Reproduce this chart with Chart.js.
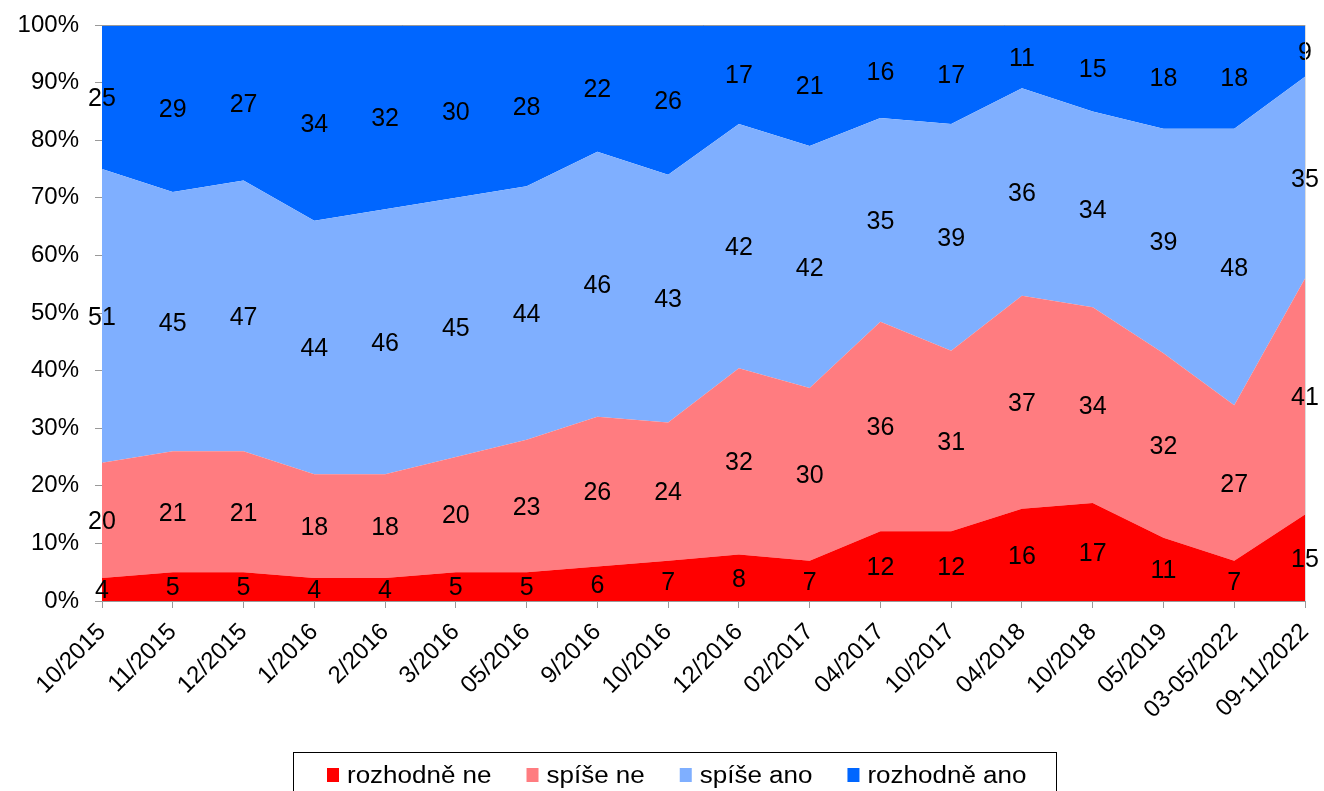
<!DOCTYPE html>
<html>
<head>
<meta charset="utf-8">
<script src="https://cdn.jsdelivr.net/npm/chart.js@4/dist/chart.umd.min.js"></script>
<style>
  html,body{margin:0;padding:0;background:#fff;}
  #wrap{width:1324px;height:791px;}
</style>
</head>
<body>
<div id="wrap"><canvas id="c" width="1324" height="791"></canvas></div>
<script>
// -- dati --
let labels = ["10/2015","11/2015","12/2015","1/2016","2/2016","3/2016","05/2016","9/2016","10/2016","12/2016","02/2017","04/2017","10/2017","04/2018","10/2018","05/2019","03-05/2022","09-11/2022"];
let rozhodneNe  = [4,5,5,4,4,5,5,6,7,8,7,12,12,16,17,11,7,15];
let spiseNe     = [20,21,21,18,18,20,23,26,24,32,30,36,31,37,34,32,27,41];
let spiseAno    = [51,45,47,44,46,45,44,46,43,42,42,35,39,36,34,39,48,35];
let rozhodneAno = [25,29,27,34,32,30,28,22,26,17,21,16,17,11,15,18,18,9];
let seriesNames = ["rozhodně ne","spíše ne","spíše ano","rozhodně ano"];
let colors = ["#FF0000","#FF7C80","#7FAFFF","#0066FF"];
let yTicks = [0,10,20,30,40,50,60,70,80,90,100];

const FONT = "'Liberation Sans', Arial, sans-serif";
let raw = [rozhodneNe, spiseNe, spiseAno, rozhodneAno];
// 100% stacked: normalizza ogni colonna
let totals = labels.map((_,j)=>raw.reduce((s,a)=>s+a[j],0));
let norm = raw.map(a=>a.map((v,j)=>v/totals[j]*100));

// -- etichette dentro le aree --
const valueLabels = {
  id:'valueLabels',
  afterDatasetsDraw(chart){
    let ctx=chart.ctx, x=chart.scales.x, y=chart.scales.y;
    ctx.save();
    ctx.font="25px "+FONT; ctx.fillStyle="#000"; ctx.textAlign="center"; ctx.textBaseline="middle";
    labels.forEach((_,j)=>{
      let base=0;
      raw.forEach((arr,i)=>{
        let mid=base+norm[i][j]/2; base+=norm[i][j];
        ctx.fillText(String(arr[j]), x.getPixelForValue(j), y.getPixelForValue(mid)+2);
      });
    });
    ctx.restore();
  }
};

// -- bordo superiore + legenda in riquadro --
const frameLegend = {
  id:'frameLegend',
  afterDraw(chart){
    let ctx=chart.ctx, a=chart.chartArea;
    ctx.save();
    ctx.strokeStyle="#999"; ctx.lineWidth=1;
    ctx.beginPath(); ctx.moveTo(a.left,a.top+0.5); ctx.lineTo(a.right,a.top+0.5); ctx.stroke();
    ctx.strokeStyle="#ddd";
    ctx.beginPath(); ctx.moveTo(a.right+0.5,a.top); ctx.lineTo(a.right+0.5,a.bottom); ctx.stroke();
    // legenda (testo un po' largo come nell'originale)
    ctx.strokeStyle="#000";
    ctx.strokeRect(293.5,752.5,763,60);
    ctx.font="23px "+FONT; ctx.textBaseline="alphabetic"; ctx.textAlign="left";
    let sx=1.13, mw=12, mg=8, gap=35;
    let xx=327, base=783;
    seriesNames.forEach((n,i)=>{
      ctx.fillStyle=colors[i]; ctx.fillRect(xx,768,mw,14);
      ctx.fillStyle="#000";
      ctx.save(); ctx.translate(xx+mw+mg,base); ctx.scale(sx,1); ctx.fillText(n,0,0); ctx.restore();
      xx+=mw+mg+ctx.measureText(n).width*sx+gap;
    });
    ctx.restore();
  }
};

new Chart(document.getElementById("c"),{
  type:'line',
  data:{
    labels,
    datasets: norm.map((d,i)=>({
      label:seriesNames[i], data:d, fill:i===0?'origin':'-1',
      backgroundColor:colors[i], borderColor:colors[i], borderWidth:0,
      pointRadius:0, tension:0
    }))
  },
  options:{
    responsive:false, animation:false,
    layout:{padding:{top:25,right:19,left:0,bottom:0}},
    plugins:{legend:{display:false}, tooltip:{enabled:false}},
    scales:{
      x:{
        offset:false,
        grid:{drawOnChartArea:false, tickLength:7, color:"#999"},
        border:{color:"#999", width:1},
        ticks:{color:"#000", font:{family:FONT,size:24}, minRotation:45, maxRotation:45, padding:10, autoSkip:false},
        afterFit(s){ s.height=190; s.paddingRight=0; s.paddingLeft=0; }
      },
      y:{
        stacked:true, min:0, max:100,
        afterBuildTicks(s){ s.ticks=yTicks.map(v=>({value:v})); },
        grid:{drawOnChartArea:false, tickLength:7, color:"#999"},
        border:{color:"#999", width:1},
        ticks:{color:"#000", font:{family:FONT,size:24}, padding:16, callback:v=>v+"%"},
        afterFit(s){ s.width=102; s.paddingTop=0; s.paddingBottom=0; }
      }
    }
  },
  plugins:[valueLabels, frameLegend]
});
</script>
</body>
</html>
